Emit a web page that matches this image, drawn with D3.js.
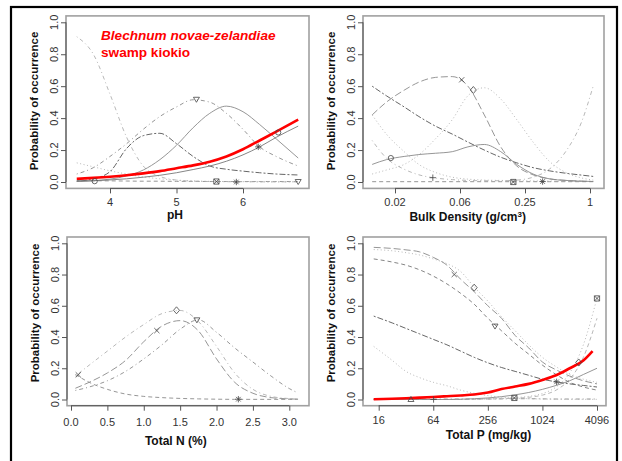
<!DOCTYPE html>
<html><head><meta charset="utf-8">
<script src="https://cdn.jsdelivr.net/npm/d3@7"></script>
<style>
body{margin:0;background:#fff}
svg{display:block}
text{font-family:"Liberation Sans",Arial,Helvetica,sans-serif}
</style>
</head><body>
<svg id="chart" width="622" height="461"></svg>
<script>
// ================= DATA =================
const yTicks = [0, 0.2, 0.4, 0.6, 0.8, 1.0];
const yTickLabels = ["0.0", "0.2", "0.4", "0.6", "0.8", "1.0"];
const yTitle = "Probability of occurrence";
const titleLine1 = "Blechnum novae-zelandiae";
const titleLine2 = "swamp kiokio";

// --- pH panel ---
const phTicks = [4, 5, 6];
const phTickLabels = ["4", "5", "6"];
const phX = [3.5, 3.75, 4.0, 4.25, 4.5, 4.75, 5.0, 5.25, 5.5, 5.75, 6.0, 6.25, 6.5, 6.83];
const phRed      = [0.02, 0.026, 0.033, 0.042, 0.054, 0.068, 0.086, 0.104, 0.127, 0.16, 0.205, 0.26, 0.315, 0.39];
const phSteep    = [0.91, 0.8, 0.55, 0.28, 0.1, 0.035, 0.012, 0.005, 0.003, 0.002, 0.002, 0.001, 0.001, 0.001];
const phTriBell  = [0.05, 0.09, 0.16, 0.24, 0.33, 0.41, 0.47, 0.515, 0.5, 0.43, 0.33, 0.22, 0.16, 0.1];
const phSolidBell= [0.003, 0.008, 0.018, 0.038, 0.075, 0.14, 0.23, 0.34, 0.43, 0.475, 0.44, 0.36, 0.27, 0.15];
const phTwoDash  = [0.005, 0.02, 0.065, 0.21, 0.29, 0.305, 0.24, 0.16, 0.1, 0.08, 0.068, 0.058, 0.05, 0.044];
const phThin     = [0.005, 0.008, 0.013, 0.02, 0.03, 0.042, 0.058, 0.078, 0.1, 0.13, 0.17, 0.22, 0.28, 0.35];
const phDotLow   = [0.12, 0.095, 0.07, 0.05, 0.032, 0.02, 0.012, 0.007, 0.004, 0.003, 0.002, 0.001, 0.001, 0.001];
const phFlat     = [0.01, 0.008, 0.007, 0.006, 0.005, 0.005, 0.004, 0.004, 0.003, 0.003, 0.003, 0.003, 0.003, 0.003];
const phMarkX    = [5.3, 6.23, 6.53, 3.77, 5.6, 5.9, 6.83];
const phMarkY    = [0.518, 0.22, 0.31, 0.005, 0.003, 0.0, 0.003];
const phMarkType = ["tridown", "star", "circle", "circle", "square", "star", "tridown"];

// --- Bulk density panel ---
const bdTicks = [1/64, 1/16, 1/4, 1];
const bdTickLabels = ["0.02", "0.06", "0.25", "1"];
const bdX = [0.0096, 0.013, 0.019, 0.026, 0.037, 0.053, 0.074, 0.105, 0.149, 0.21, 0.297, 0.42, 0.595, 0.84, 1.07];
const bdCross   = [0.42, 0.5, 0.575, 0.625, 0.655, 0.66, 0.6, 0.42, 0.22, 0.1, 0.045, 0.02, 0.01, 0.005, 0.003];
const bdDiamond = [0.05, 0.075, 0.11, 0.17, 0.27, 0.39, 0.54, 0.59, 0.52, 0.39, 0.25, 0.13, 0.06, 0.025, 0.012];
const bdTwoDash = [0.6, 0.54, 0.47, 0.41, 0.35, 0.3, 0.25, 0.2, 0.155, 0.12, 0.09, 0.07, 0.055, 0.043, 0.035];
const bdSolid   = [0.11, 0.14, 0.16, 0.172, 0.18, 0.19, 0.22, 0.235, 0.19, 0.11, 0.05, 0.02, 0.01, 0.005, 0.003];
const bdU       = [0.26, 0.15, 0.08, 0.045, 0.025, 0.015, 0.01, 0.008, 0.008, 0.012, 0.03, 0.08, 0.19, 0.38, 0.6];
const bdDotDecl = [0.42, 0.3, 0.19, 0.11, 0.06, 0.03, 0.018, 0.012, 0.01, 0.008, 0.007, 0.006, 0.005, 0.005, 0.005];
const bdFlat    = [0.002, 0.002, 0.002, 0.002, 0.002, 0.002, 0.002, 0.002, 0.002, 0.002, 0.002, 0.002, 0.002, 0.002, 0.002];
const bdMarkX    = [0.0143, 0.035, 0.0648, 0.0831, 0.195, 0.364];
const bdMarkY    = [0.15, 0.027, 0.64, 0.576, 0.0, 0.003];
const bdMarkType = ["circle", "plus", "x", "diamond", "square", "star"];

// --- Total N panel ---
const nTicks = [0, 0.5, 1.0, 1.5, 2.0, 2.5, 3.0];
const nTickLabels = ["0.0", "0.5", "1.0", "1.5", "2.0", "2.5", "3.0"];
const nX = [0.06, 0.25, 0.5, 0.75, 1.0, 1.25, 1.5, 1.75, 2.0, 2.25, 2.5, 2.75, 3.0, 3.12];
const nDiamond = [0.15, 0.22, 0.31, 0.4, 0.48, 0.55, 0.57, 0.5, 0.34, 0.17, 0.065, 0.02, 0.006, 0.003];
const nCross   = [0.072, 0.11, 0.17, 0.25, 0.37, 0.47, 0.505, 0.44, 0.26, 0.11, 0.04, 0.012, 0.004, 0.002];
const nTri     = [0.058, 0.08, 0.12, 0.18, 0.26, 0.35, 0.45, 0.51, 0.43, 0.33, 0.24, 0.15, 0.07, 0.042];
const nDash    = [0.16, 0.11, 0.065, 0.035, 0.02, 0.012, 0.007, 0.004, 0.002, 0.001, 0.001, 0.001, 0.001, 0.001];
const nMarkX    = [0.1, 1.18, 1.45, 1.73, 2.3];
const nMarkY    = [0.158, 0.441, 0.571, 0.51, 0.002];
const nMarkType = ["x", "x", "diamond", "tridown", "star"];

// --- Total P panel ---
const pTicks = [16, 64, 256, 1024, 4096];
const pTickLabels = ["16", "64", "256", "1024", "4096"];
const pX = [14.1, 22.6, 32, 45.3, 64, 90.5, 128, 181, 256, 362, 512, 724, 1024, 1448, 2048, 2896, 4096];
const pCross    = [0.974, 0.967, 0.958, 0.945, 0.91, 0.86, 0.77, 0.69, 0.6, 0.52, 0.41, 0.33, 0.24, 0.19, 0.15, 0.12, 0.1];
const pDiamond  = [0.96, 0.952, 0.94, 0.925, 0.9, 0.87, 0.82, 0.72, 0.63, 0.53, 0.44, 0.35, 0.27, 0.21, 0.16, 0.13, 0.11];
const pTri      = [0.9, 0.88, 0.86, 0.83, 0.79, 0.74, 0.68, 0.61, 0.52, 0.44, 0.36, 0.29, 0.22, 0.16, 0.11, 0.08, 0.06];
const pTwoDash  = [0.534, 0.49, 0.455, 0.42, 0.385, 0.35, 0.31, 0.27, 0.235, 0.205, 0.18, 0.155, 0.13, 0.113, 0.1, 0.09, 0.08];
const pDotDecl  = [0.34, 0.25, 0.18, 0.14, 0.11, 0.088, 0.06, 0.04, 0.025, 0.015, 0.009, 0.005, 0.003, 0.002, 0.001, 0.001, 0.001];
const pSolidUp  = [0, 0, 0, 0, 0, 0, 0.002, 0.005, 0.01, 0.018, 0.03, 0.045, 0.065, 0.09, 0.12, 0.16, 0.2];
const pSteep    = [0, 0, 0, 0, 0, 0, 0, 0.002, 0.004, 0.007, 0.012, 0.02, 0.038, 0.08, 0.17, 0.35, 0.65];
const pSteep2   = [0, 0, 0, 0, 0, 0, 0, 0.001, 0.003, 0.005, 0.008, 0.014, 0.028, 0.06, 0.13, 0.27, 0.52];
const pFlat     = [0.003, 0.003, 0.003, 0.003, 0.003, 0.003, 0.003, 0.003, 0.003, 0.004, 0.005, 0.005, 0.004, 0.003, 0.003, 0.003, 0.003];
const pRedX = [14.1, 22.6, 32, 45.3, 64, 90.5, 128, 181, 256, 362, 512, 724, 1024, 1448, 2048, 2896, 3660];
const pRed  = [0.002, 0.005, 0.008, 0.012, 0.016, 0.021, 0.026, 0.032, 0.045, 0.067, 0.083, 0.1, 0.125, 0.155, 0.2, 0.25, 0.31];
const pMarkX    = [36.3, 64.5, 109, 181, 307, 502, 1468, 2574, 4096];
const pMarkY    = [0.0, 0.0, 0.80, 0.716, 0.47, 0.01, 0.113, 0.237, 0.647];
const pMarkType = ["triup", "plus", "x", "diamond", "tridown", "square", "star", "diamond", "square"];

// ================= STYLES =================
const DASH = {solid: null, dashed: "4,3", dotted: "1,2.5", dotdash: "1,3,4,3", longdash: "7,3", twodash: "2,2,6,2"};
const RED = "#ff0000";
const C_DARK = "#555", C_MID = "#8a8a8a", C_LIGHT = "#b0b0b0";

const svg = d3.select("#chart");

// outer frame
svg.append("rect").attr("x", 11).attr("y", 7).attr("width", 606).attr("height", 470)
  .attr("fill", "none").attr("stroke", "#000").attr("stroke-width", 2.2);

const symbolPaths = {
  diamond: "M0,-3.5L3,0L0,3.5L-3,0Z",
  tridown: "M-3,-2L3,-2L0,3Z",
  triup: "M-3,2L3,2L0,-3Z",
  x: "M-2.6,-2.6L2.6,2.6M-2.6,2.6L2.6,-2.6",
  plus: "M-3.2,0L3.2,0M0,-3.2L0,3.2",
  star: "M-3.2,0L3.2,0M0,-3.2L0,3.2M-2.3,-2.3L2.3,2.3M-2.3,2.3L2.3,-2.3",
  square: "M-2.6,-2.6h5.2v5.2h-5.2ZM-2.6,-2.6L2.6,2.6M-2.6,2.6L2.6,-2.6",
  circle: "M2.6,0A2.6,2.6 0 1 1 -2.6,0A2.6,2.6 0 1 1 2.6,0Z"
};

function drawPanel(cfg) {
  const g = svg.append("g");
  const {x, y, box} = cfg;
  g.append("rect").attr("x", box.l).attr("y", box.t).attr("width", box.r - box.l).attr("height", box.b - box.t)
    .attr("fill", "none").attr("stroke", "#a0a0a0").attr("stroke-width", 1.6);

  const ya = g.append("g").attr("transform", `translate(${box.l},0)`)
    .call(d3.axisLeft(y).tickValues(yTicks).tickSize(5).tickFormat(() => ""));
  ya.select(".domain").remove();
  ya.selectAll("line").attr("stroke", "#555");
  g.append("line").attr("x1", box.l).attr("x2", box.l).attr("y1", y(0)).attr("y2", y(1)).attr("stroke", "#555");
  yTicks.forEach((t, i) => {
    g.append("text").attr("transform", `translate(${box.l - 8.5},${y(t)}) rotate(-90)`)
      .attr("text-anchor", "middle").attr("font-size", 11).attr("fill", "#333").text(yTickLabels[i]);
  });
  g.append("text").attr("transform", `translate(${box.l - 28},${cfg.yTitleY}) rotate(-90)`)
    .attr("text-anchor", "middle").attr("font-size", 11.5).attr("font-weight", "bold").attr("fill", "#111").text(yTitle);

  const xa = g.append("g").attr("transform", `translate(0,${box.b})`)
    .call(d3.axisBottom(x).tickValues(cfg.ticks).tickSize(5).tickFormat(() => ""));
  xa.select(".domain").remove();
  xa.selectAll("line").attr("stroke", "#555");
  g.append("line").attr("y1", box.b).attr("y2", box.b)
    .attr("x1", x(cfg.ticks[0])).attr("x2", x(cfg.ticks[cfg.ticks.length - 1])).attr("stroke", "#555");
  cfg.ticks.forEach((t, i) => {
    g.append("text").attr("x", x(t)).attr("y", cfg.tickBase).attr("text-anchor", "middle")
      .attr("font-size", 11).attr("fill", "#333").text(cfg.tickLabels[i]);
  });
  const xt = g.append("text").attr("x", cfg.xTitleX).attr("y", cfg.xTitleBase).attr("text-anchor", "middle")
    .attr("font-size", 12).attr("font-weight", "bold").attr("fill", "#111");
  cfg.xTitle(xt);

  const line = d3.line().curve(d3.curveMonotoneX);
  cfg.series.forEach(s => {
    const pts = s.xs.map((xv, i) => [x(xv), y(s.ys[i])]);
    g.append("path").attr("d", line(pts)).attr("fill", "none")
      .attr("stroke", s.color).attr("stroke-width", s.w || 0.9)
      .attr("stroke-dasharray", DASH[s.dash]);
  });
  cfg.marks.x.forEach((mx, i) => {
    g.append("path").attr("d", symbolPaths[cfg.marks.type[i]])
      .attr("transform", `translate(${x(mx)},${y(cfg.marks.y[i])})`)
      .attr("fill", "none").attr("stroke", "#444").attr("stroke-width", 0.8);
  });
  return g;
}

const yTop = d3.scaleLinear().domain([0, 1]).range([182, 22.3]);
const yBot = d3.scaleLinear().domain([0, 1]).range([399.5, 243.3]);

// ---- Panel 1: pH ----
const xPh = d3.scaleLinear().domain([4, 6]).range([110, 243]);
const g1 = drawPanel({
  x: xPh, y: yTop, box: {l: 66, r: 309, t: 15.9, b: 188.4},
  ticks: phTicks, tickLabels: phTickLabels, tickBase: 205.5,
  xTitleX: 175, xTitleBase: 218.5, xTitle: t => t.text("pH"), yTitleY: 101,
  series: [
    {xs: phX, ys: phFlat, color: C_MID, dash: "dashed"},
    {xs: phX, ys: phDotLow, color: C_LIGHT, dash: "dotted"},
    {xs: phX, ys: phSteep, color: C_LIGHT, dash: "dotdash"},
    {xs: phX, ys: phTwoDash, color: C_DARK, dash: "twodash"},
    {xs: phX, ys: phTriBell, color: C_MID, dash: "dotdash"},
    {xs: phX, ys: phSolidBell, color: C_MID, dash: "solid"},
    {xs: phX, ys: phThin, color: "#777", dash: "solid"},
    {xs: phX, ys: phRed, color: RED, dash: "solid", w: 2.6}
  ],
  marks: {x: phMarkX, y: phMarkY, type: phMarkType}
});
g1.append("text").attr("x", 101).attr("y", 40).attr("font-size", 13.6).attr("font-weight", "bold")
  .attr("font-style", "italic").attr("fill", RED).text(titleLine1);
g1.append("text").attr("x", 101).attr("y", 57).attr("font-size", 13.6).attr("font-weight", "bold")
  .attr("fill", RED).text(titleLine2);

// ---- Panel 2: Bulk density ----
const xBd = d3.scaleLog().base(2).domain([1/64, 1]).range([395, 590]);
drawPanel({
  x: xBd, y: yTop, box: {l: 363, r: 604, t: 15.9, b: 188.4},
  ticks: bdTicks, tickLabels: bdTickLabels, tickBase: 205.5,
  xTitleX: 467.7, xTitleBase: 221,
  xTitle: t => { t.append("tspan").text("Bulk Density (g/cm");
                 t.append("tspan").attr("font-size", 8).attr("dy", -4.5).text("3");
                 t.append("tspan").attr("dy", 4.5).text(")"); },
  yTitleY: 101,
  series: [
    {xs: bdX, ys: bdFlat, color: C_MID, dash: "dashed"},
    {xs: bdX, ys: bdDotDecl, color: C_LIGHT, dash: "dotted"},
    {xs: bdX, ys: bdU, color: C_LIGHT, dash: "dotdash"},
    {xs: bdX, ys: bdTwoDash, color: C_DARK, dash: "twodash"},
    {xs: bdX, ys: bdSolid, color: C_MID, dash: "solid"},
    {xs: bdX, ys: bdDiamond, color: C_LIGHT, dash: "dotted"},
    {xs: bdX, ys: bdCross, color: C_MID, dash: "longdash"}
  ],
  marks: {x: bdMarkX, y: bdMarkY, type: bdMarkType}
});

// ---- Panel 3: Total N ----
const xN = d3.scaleLinear().domain([0, 3]).range([71, 289.3]);
drawPanel({
  x: xN, y: yBot, box: {l: 67, r: 309, t: 237, b: 405.7},
  ticks: nTicks, tickLabels: nTickLabels, tickBase: 426,
  xTitleX: 175.8, xTitleBase: 445, xTitle: t => t.text("Total N (%)"), yTitleY: 313,
  series: [
    {xs: nX, ys: nDash, color: C_MID, dash: "dashed"},
    {xs: nX, ys: nTri, color: C_MID, dash: "dotdash"},
    {xs: nX, ys: nCross, color: C_MID, dash: "longdash"},
    {xs: nX, ys: nDiamond, color: C_LIGHT, dash: "dotdash"}
  ],
  marks: {x: nMarkX, y: nMarkY, type: nMarkType}
});

// ---- Panel 4: Total P ----
const xP = d3.scaleLog().base(2).domain([16, 4096]).range([378.7, 597]);
drawPanel({
  x: xP, y: yBot, box: {l: 363, r: 606, t: 237, b: 405.7},
  ticks: pTicks, tickLabels: pTickLabels, tickBase: 424,
  xTitleX: 488.5, xTitleBase: 438.6, xTitle: t => t.text("Total P (mg/kg)"), yTitleY: 313,
  series: [
    {xs: pX, ys: pFlat, color: C_MID, dash: "dotdash"},
    {xs: pX, ys: pDotDecl, color: C_LIGHT, dash: "dotted"},
    {xs: pX, ys: pSteep2, color: C_LIGHT, dash: "dashed"},
    {xs: pX, ys: pSteep, color: C_LIGHT, dash: "dotted"},
    {xs: pX, ys: pSolidUp, color: C_MID, dash: "solid"},
    {xs: pX, ys: pTwoDash, color: C_DARK, dash: "twodash"},
    {xs: pX, ys: pTri, color: "#777", dash: "dashed"},
    {xs: pX, ys: pDiamond, color: C_LIGHT, dash: "dotted"},
    {xs: pX, ys: pCross, color: C_MID, dash: "longdash"},
    {xs: pRedX, ys: pRed, color: RED, dash: "solid", w: 2.6}
  ],
  marks: {x: pMarkX, y: pMarkY, type: pMarkType}
});
</script>
</body></html>
